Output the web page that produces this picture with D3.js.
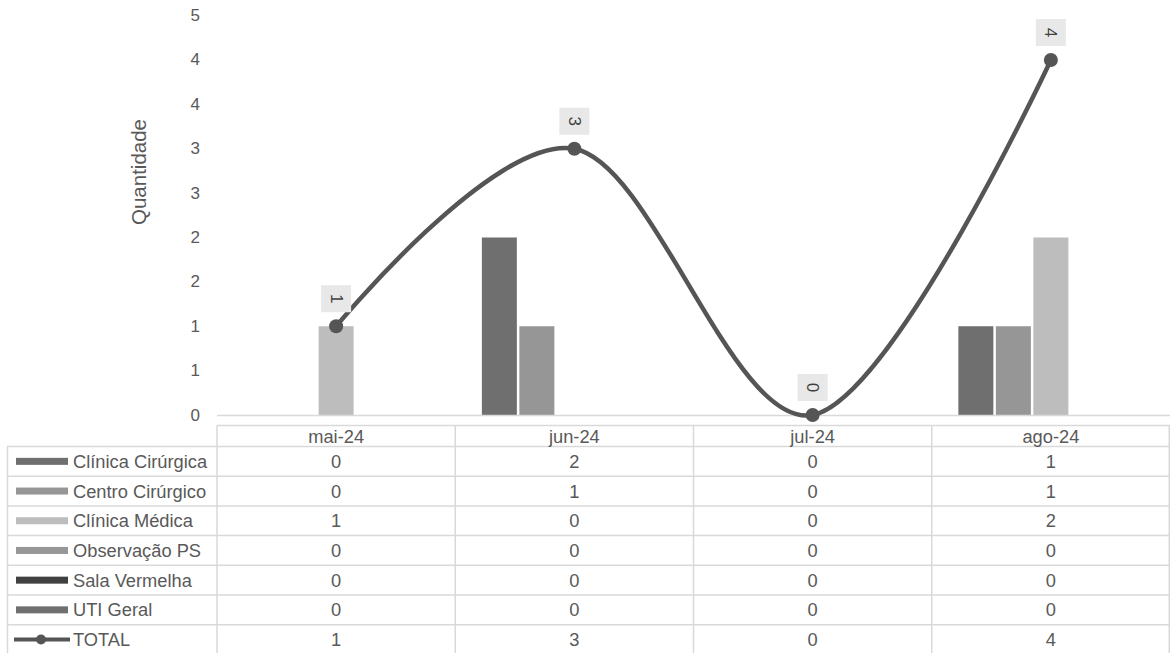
<!DOCTYPE html>
<html><head><meta charset="utf-8">
<script src="https://cdn.jsdelivr.net/npm/d3@7"></script>
<style>
html,body{margin:0;padding:0;background:#fff;}
svg{display:block;font-family:"Liberation Sans",Arial,sans-serif;}
</style></head>
<body><svg id="c" width="1170" height="653"></svg>
<script>
// ---- data ----
const months = ["mai-24","jun-24","jul-24","ago-24"];
const seriesNames = ["Clínica Cirúrgica","Centro Cirúrgico","Clínica Médica","Observação PS","Sala Vermelha","UTI Geral"];
const clinicaCirurgica = [0,2,0,1];
const centroCirurgico  = [0,1,0,1];
const clinicaMedica    = [1,0,0,2];
const observacaoPS     = [0,0,0,0];
const salaVermelha     = [0,0,0,0];
const utiGeral         = [0,0,0,0];
const total            = [1,3,0,4];
const yTickValues = [0,0.5,1,1.5,2,2.5,3,3.5,4,4.5];
const yTickLabels = ["0","1","1","2","2","3","3","4","4","5"];
const yTitle = "Quantidade";
const totalName = "TOTAL";

const seriesValues = [clinicaCirurgica, centroCirurgico, clinicaMedica, observacaoPS, salaVermelha, utiGeral];
const seriesColors = ["#6f6f6f","#969696","#bdbdbd","#979797","#404040","#6f6f6f"];
const lineColor = "#555555";
const textColor = "#595959";
const gridColor = "#d9d9d9";

const svg = d3.select("#c");
const pLeft = 217, pRight = 1170, pTop = 15.6, pBottom = 415;

const x = d3.scaleBand().domain(months).range([pLeft, pRight]).padding(0);
const y = d3.scaleLinear().domain([0,4.5]).range([pBottom, pTop]);
const step = 37.5;
const inner = d3.scaleBand().domain(seriesNames).range([-2.5*step, 3.5*step]).paddingInner(0.067).paddingOuter(0.033);

// y ticks
svg.append("g").selectAll("text").data(yTickValues).join("text")
  .attr("x", 200).attr("y", d => y(d)).attr("text-anchor","end")
  .attr("dominant-baseline","central").attr("fill",textColor).attr("font-size",17)
  .text((d,i) => yTickLabels[i]);

// y title
svg.append("text").attr("transform","translate(138,172) rotate(-90)")
  .attr("text-anchor","middle").attr("dominant-baseline","central")
  .attr("fill",textColor).attr("font-size",20.5).text(yTitle);

// bars
const barData = [];
seriesNames.forEach((s,si) => months.forEach((m,mi) => {
  if (seriesValues[si][mi] > 0) barData.push({s, si, m, v: seriesValues[si][mi]});
}));
svg.append("g").selectAll("rect").data(barData).join("rect")
  .attr("x", d => x(d.m) + x.bandwidth()/2 + inner(d.s))
  .attr("width", inner.bandwidth())
  .attr("y", d => y(d.v)).attr("height", d => y(0) - y(d.v))
  .attr("fill", d => seriesColors[d.si]);

// baseline axis
svg.append("line").attr("x1",pLeft).attr("x2",pRight).attr("y1",y(0)+0.5).attr("y2",y(0)+0.5)
  .attr("stroke",gridColor).attr("stroke-width",1.5);

// total line
const pts = months.map((m,i) => [x(m)+x.bandwidth()/2, y(total[i])]);
svg.append("path").attr("d", d3.line().curve(d3.curveCardinal.tension(0))(pts))
  .attr("fill","none").attr("stroke",lineColor).attr("stroke-width",4.5).attr("stroke-linecap","round");
svg.append("g").selectAll("circle").data(pts).join("circle")
  .attr("cx",d=>d[0]).attr("cy",d=>d[1]).attr("r",7).attr("fill",lineColor);

// data labels
const lab = svg.append("g").selectAll("g").data(pts).join("g")
  .attr("transform", d => `translate(${d[0]},${d[1]-27.5})`);
lab.append("rect").attr("x",-15).attr("y",-13.5).attr("width",30).attr("height",27).attr("fill","#e8e8e8");
lab.append("text").attr("transform","rotate(90)").attr("text-anchor","middle").attr("dominant-baseline","central")
  .attr("fill","#404040").attr("font-size",17).text((d,i)=>total[i]);

// ---- data table ----
const hTop = 425.5, hBot = 446.5, rowH = 29.7, fs = 18.3;
const tableRows = seriesNames.map((s,i)=>({name:s, vals:seriesValues[i], color:seriesColors[i], type:"bar"}))
  .concat([{name:totalName, vals:total, color:lineColor, type:"line"}]);
const tg = svg.append("g");
const tableBottom = hBot + rowH*tableRows.length;
tg.append("line").attr("x1",pLeft).attr("x2",pRight).attr("y1",hTop).attr("y2",hTop).attr("stroke",gridColor).attr("stroke-width",1.5);
d3.range(tableRows.length+1).forEach(i=>{
  const yy = hBot + i*rowH;
  tg.append("line").attr("x1",7).attr("x2",pRight).attr("y1",yy).attr("y2",yy).attr("stroke",gridColor).attr("stroke-width",1.5);
});
months.forEach(m=>{
  tg.append("line").attr("x1",x(m)).attr("x2",x(m)).attr("y1",hTop).attr("y2",tableBottom).attr("stroke",gridColor).attr("stroke-width",1.5);
});
tg.append("line").attr("x1",pRight-0.75).attr("x2",pRight-0.75).attr("y1",hTop).attr("y2",tableBottom).attr("stroke",gridColor).attr("stroke-width",1.5);
tg.append("line").attr("x1",7.5).attr("x2",7.5).attr("y1",hBot).attr("y2",tableBottom).attr("stroke",gridColor).attr("stroke-width",1.5);
tg.selectAll("text.h").data(months).join("text").attr("class","h")
  .attr("x", m => x(m)+x.bandwidth()/2).attr("y",(hTop+hBot)/2+0.5)
  .attr("text-anchor","middle").attr("dominant-baseline","central")
  .attr("fill",textColor).attr("font-size",fs).text(m=>m);
tableRows.forEach((r,ri)=>{
  const cy = hBot + rowH*ri + rowH/2;
  if (r.type==="bar") {
    tg.append("rect").attr("x",16).attr("y",cy-3.5).attr("width",52).attr("height",7).attr("fill",r.color);
  } else {
    tg.append("line").attr("x1",14).attr("x2",70).attr("y1",cy).attr("y2",cy).attr("stroke",r.color).attr("stroke-width",4);
    tg.append("circle").attr("cx",41).attr("cy",cy).attr("r",5).attr("fill",r.color);
  }
  tg.append("text").attr("x",73).attr("y",cy).attr("dominant-baseline","central")
    .attr("fill",textColor).attr("font-size",fs).text(r.name);
  months.forEach((m,mi)=>{
    tg.append("text").attr("x",x(m)+x.bandwidth()/2).attr("y",cy)
      .attr("text-anchor","middle").attr("dominant-baseline","central")
      .attr("fill",textColor).attr("font-size",fs).text(r.vals[mi]);
  });
});
</script></body></html>
